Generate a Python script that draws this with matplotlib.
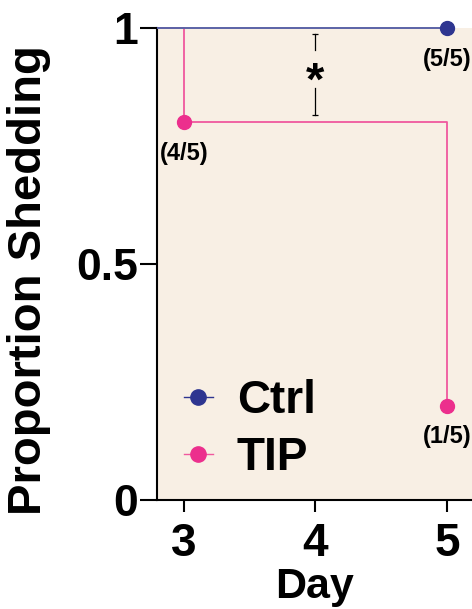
import matplotlib
matplotlib.use("Agg")
import matplotlib.pyplot as plt
from matplotlib.lines import Line2D
from matplotlib.patches import Rectangle

days = [3, 4, 5]
ctrl_x = [0, 5]
ctrl_y = [1.0, 1.0]
tip_x = [0, 3, 3, 5, 5]
tip_y = [1.0, 1.0, 0.8, 0.8, 0.2]
ctrl_pts_x = [5]
ctrl_pts_y = [1.0]
tip_pts_x = [3, 5]
tip_pts_y = [0.8, 0.2]
ann_text = ["(5/5)", "(4/5)", "(1/5)"]
ann_x = [5, 3, 5]
ann_y = [1.0, 0.8, 0.2]
sig_x = 4
sig_lo, sig_hi = 0.816, 0.987
sig_gap_lo, sig_gap_hi = 0.873, 0.953
sig_star_y = 0.906
yticks = [0, 0.5, 1]
yticklabels = ["0", "0.5", "1"]

plt.rcParams['font.family'] = ['Liberation Sans', 'DejaVu Sans']
plt.rcParams['font.weight'] = 'bold'

fig = plt.figure(figsize=(4.72, 6.09), dpi=100)
ax = fig.add_axes([157/472, 1-500/609, 1-157/472, (500-28)/609])
bg = '#F8EFE4'
ax.set_facecolor(bg)

ctrl_dark = '#2E3590'
ctrl_line = '#5B63A6'
tip_dark = '#EC2F8D'
tip_line = '#F0589E'

clip = Rectangle((0, -0.05), 1, 1.1, transform=ax.transAxes, visible=False)
ax.add_patch(clip)

l1, = ax.plot(tip_x, tip_y, color=tip_line, lw=1.3, zorder=2)
l2, = ax.plot(ctrl_x, ctrl_y, color=ctrl_line, lw=1.4, zorder=3)
for l in (l1, l2):
    l.set_clip_path(clip)
ax.plot(ctrl_pts_x, ctrl_pts_y, 'o', color=ctrl_dark, ms=10, zorder=4, clip_on=False)
ax.plot(tip_pts_x, tip_pts_y, 'o', color=tip_dark, ms=10, zorder=4, clip_on=False)

for t, x, y in zip(ann_text, ann_x, ann_y):
    ax.annotate(t, (x, y), xytext=(0, -22.5), textcoords='offset points',
                ha='center', va='center', fontsize=17, fontweight='bold')

# significance bracket
ax.plot([sig_x, sig_x], [sig_lo, sig_gap_lo], color='black', lw=0.9, zorder=3)
ax.plot([sig_x, sig_x], [sig_gap_hi, sig_hi], color='black', lw=0.9, zorder=3)
ax.plot([sig_x, sig_x], [sig_lo, sig_hi], ls='none', marker='_', ms=4,
        mew=0.9, color='black', zorder=3)
ax.annotate('*', (sig_x, sig_star_y), xytext=(0, -16), textcoords='offset points',
            ha='center', va='baseline', fontsize=34, fontweight='bold')

# legend
handles = [Line2D([], [], color=ctrl_dark, marker='o', ms=11, lw=1),
           Line2D([], [], color=tip_line, marker='o', ms=11, lw=1,
                  markerfacecolor=tip_dark, markeredgecolor=tip_dark)]
leg = ax.legend(handles, ['Ctrl', 'TIP'], loc='center left',
                bbox_to_anchor=(27/315, 0.149),
                frameon=False, prop={'size': 33, 'weight': 'bold'}, handlelength=0.63,
                handletextpad=0.52, labelspacing=0.28, borderaxespad=0, borderpad=0)

ax.set_xlim(2.795, 5.19)
ax.set_ylim(0, 1)
ax.set_xticks(days)
ax.set_xticklabels([str(d) for d in days])
ax.set_yticks(yticks)
ax.set_yticklabels(yticklabels)
ax.tick_params(axis='y', length=12.5, width=1.5, labelsize=32, pad=1)
ax.tick_params(axis='x', length=8.5, width=1.5, labelsize=33, pad=7)
for s in ['top', 'right']:
    ax.spines[s].set_visible(False)
for s in ['left', 'bottom']:
    ax.spines[s].set_linewidth(1.5)
ax.set_xlabel('Day', fontsize=31, fontweight='bold', labelpad=1)
ax.set_ylabel('Proportion Shedding', fontsize=34, fontweight='bold')
ax.yaxis.set_label_coords(-0.335, 0.466)

fig.savefig('out.png', dpi=100)
